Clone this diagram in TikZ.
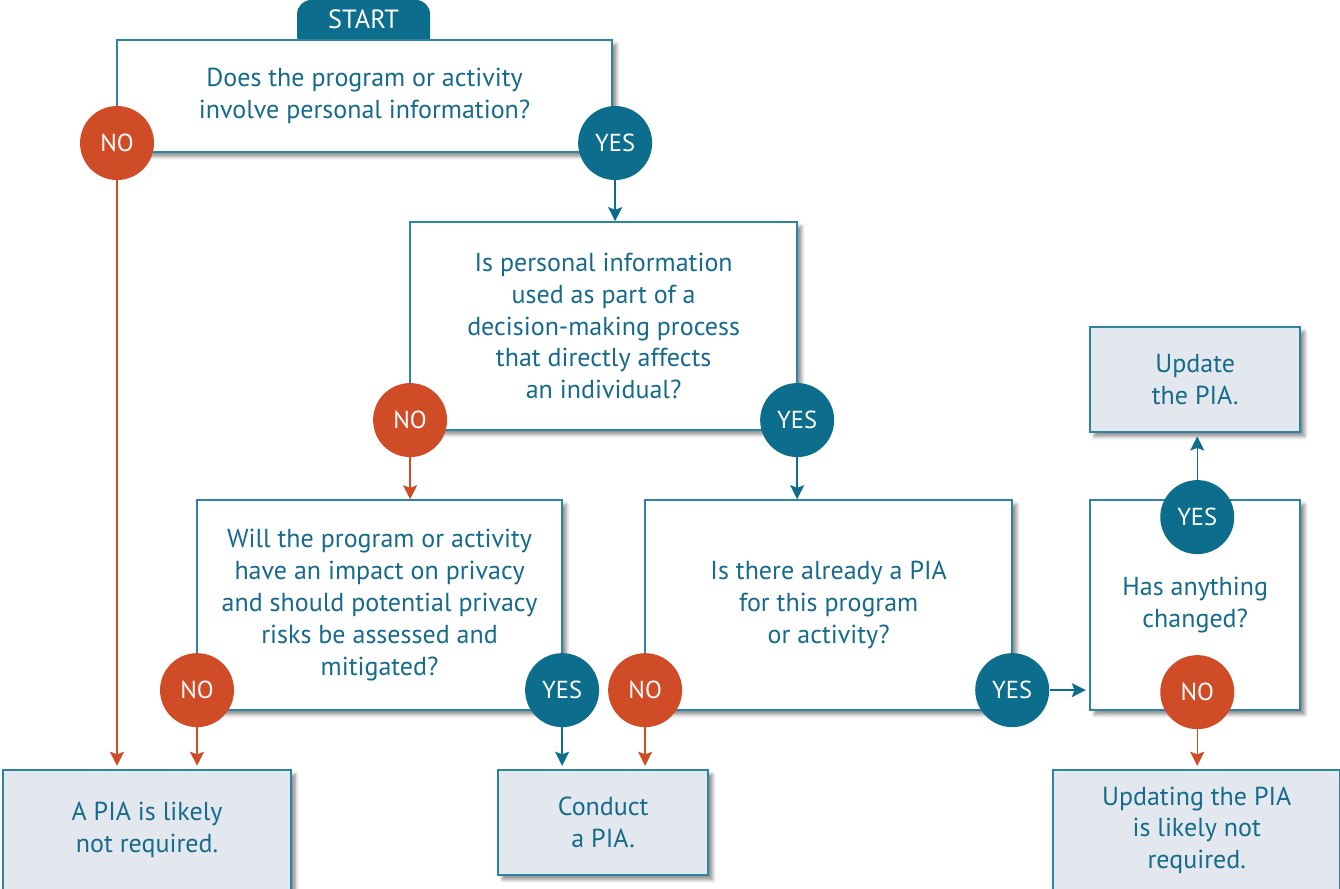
\documentclass[tikz,border=0pt]{standalone}
\usepackage{fontspec}
\setmainfont{PT Sans}
\usetikzlibrary{arrows.meta,shadows.blur}

\definecolor{piateal}{RGB}{12,110,140}
\definecolor{piaedge}{RGB}{45,132,160}
\definecolor{piatext}{RGB}{22,106,140}
\definecolor{piaorange}{RGB}{208,76,38}
\definecolor{piafill}{RGB}{227,232,238}

\newcommand{\boxfont}{\fontsize{14.8}{18.1}\selectfont}
\newcommand{\circfont}{\fontsize{14}{16}\selectfont}

\tikzset{
    qbox/.style={draw=piaedge, line width=1pt, fill=white, align=center, text=piatext,
        font=\boxfont, inner sep=0pt,
        blur shadow={shadow xshift=2.5pt, shadow yshift=-2.5pt, shadow blur steps=6, shadow opacity=45}},
    endbox/.style={qbox, fill=piafill},
    nocirc/.style={circle, fill=piaorange, text=white, font=\circfont, minimum size=1.48cm, inner sep=0pt},
    yescirc/.style={nocirc, fill=piateal},
    noarrow/.style={draw=piaorange, line width=0.8pt, -{Stealth[length=8pt,width=8pt,inset=1.5pt]}},
    yesarrow/.style={noarrow, draw=piateal}
}

\begin{document}
\begin{tikzpicture}
    \useasboundingbox (0,0) rectangle (26.8,-17.76);
    \begin{scope}[x=0.02cm, y=-0.02cm]
        % Start tab (bottom part hidden behind the first box)
        \node[fill=piateal, text=white, rounded corners=8pt, minimum width=2.66cm, minimum height=1cm,
              font=\fontsize{15}{17}\selectfont, text depth=0.25cm] (start) at (363.5,25) {START};

        % Questions
        \node[qbox, minimum width=9.9cm, minimum height=2.24cm] (q1) at (364.5,96)
            {Does the program or activity\\involve personal information?};
        \node[qbox, minimum width=7.74cm, minimum height=4.16cm] (q2) at (603.5,326)
            {Is personal information\\used as part of a\\decision-making process\\that directly affects\\an individual?};
        \node[qbox, minimum width=7.3cm, minimum height=4.2cm] (q3) at (379.5,605)
            {Will the program or activity\\have an impact on privacy\\and should potential privacy\\risks be assessed and\\mitigated?};
        \node[qbox, minimum width=7.34cm, minimum height=4.2cm] (q4) at (828.5,605)
            {Is there already a PIA\\for this program\\or activity?};
        \node[qbox, minimum width=4.2cm, minimum height=4.2cm] (q5) at (1195,605)
            {Has anything\\changed?};

        % Outcomes
        \node[endbox, minimum width=4.2cm, minimum height=2.1cm] (upd) at (1195,379.5)
            {Update\\the PIA.};
        \node[endbox, minimum width=5.76cm, minimum height=2.4cm] (notreq) at (147,830)
            {A PIA is likely\\not required.};
        \node[endbox, minimum width=4.2cm, minimum height=2.1cm] (conduct) at (603,822.5)
            {Conduct\\a PIA.};
        \node[endbox, minimum width=5.74cm, minimum height=2.4cm] (updnotreq) at (1196.5,830)
            {Updating the PIA\\is likely not\\required.};

        % Answers
        \node[nocirc] (no1) at (117,143) {NO};
        \node[yescirc] (yes1) at (615,143) {YES};
        \node[nocirc] (no2) at (410,420) {NO};
        \node[yescirc] (yes2) at (797,420) {YES};
        \node[nocirc] (no3) at (197,690) {NO};
        \node[yescirc] (yes3) at (562,690) {YES};
        \node[nocirc] (no4) at (645,690) {NO};
        \node[yescirc] (yes4) at (1012,690) {YES};
        \node[yescirc] (yes5) at (1197,517) {YES};
        \node[nocirc] (no5) at (1197,692) {NO};

        % Arrows
        \draw[noarrow, shorten >=2pt] (no1) -- (no1 |- notreq.north);
        \draw[yesarrow] (yes1) -- (yes1 |- q2.north);
        \draw[noarrow] (no2) -- (no2 |- q3.north);
        \draw[yesarrow] (yes2) -- (yes2 |- q4.north);
        \draw[noarrow, shorten >=2pt] (no3) -- (no3 |- notreq.north);
        \draw[yesarrow, shorten >=2pt] (yes3) -- (yes3 |- conduct.north);
        \draw[noarrow, shorten >=2pt] (no4) -- (no4 |- conduct.north);
        \draw[yesarrow, shorten >=2pt] (yes4) -- (yes4 -| q5.west);
        \draw[yesarrow, shorten >=2pt] (yes5) -- (yes5 |- upd.south);
        \draw[noarrow, shorten >=2pt] (no5) -- (no5 |- updnotreq.north);
    \end{scope}
\end{tikzpicture}
\end{document}
